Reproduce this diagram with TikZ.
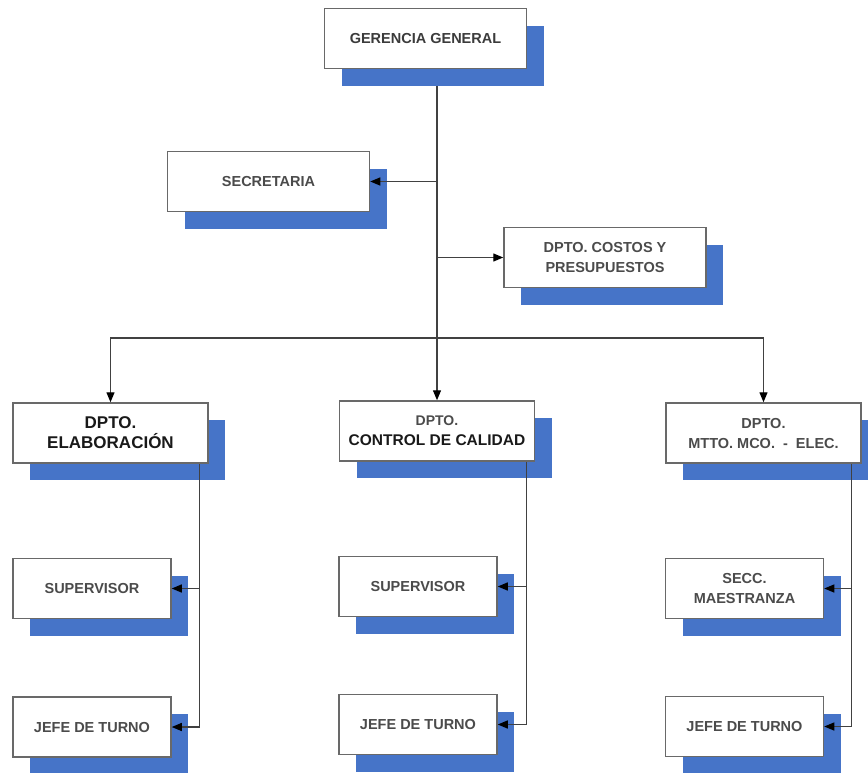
\documentclass[tikz,border=0pt]{standalone}
\usepackage{fontspec}
\setmainfont{Liberation Sans}
\usetikzlibrary{arrows.meta}
\definecolor{shad}{RGB}{70,116,200}
\definecolor{txt}{RGB}{75,75,75}
\definecolor{dtxt}{RGB}{25,25,25}
\definecolor{bord}{RGB}{105,105,105}
\definecolor{conn}{RGB}{65,65,65}
\tikzset{
  orgbox/.style={draw=bord, line width=1.5pt, fill=white, inner sep=0pt,
    align=center, text=txt, font=\fontsize{14.5}{20}\selectfont\bfseries,
    minimum height=60pt,
    preaction={fill=shad, transform canvas={shift={(17pt,-17pt)}}}},
  bigbox/.style={orgbox, minimum width=202pt},
  deptbox/.style={orgbox, minimum width=195pt},
  smallbox/.style={orgbox, minimum width=158pt},
  conn/.style={draw=conn, line width=1.3pt},
  arr/.style={conn, -{Triangle[length=10pt,width=8pt,color=black]}}
}
\begin{document}
\begin{tikzpicture}[x=1pt,y=-1pt]
\useasboundingbox (0,0) rectangle (868,772);
\fill[white] (0,0) rectangle (868,772);

\node[bigbox, text=dtxt!85!white] (ger) at (425.5,38.5) {GERENCIA GENERAL};
\node[bigbox] (sec) at (268.5,181.5) {SECRETARIA};
\node[bigbox] (cos) at (605,257.5) {DPTO. COSTOS Y\\PRESUPUESTOS};

\node[deptbox, text=dtxt, font=\fontsize{17}{20}\selectfont\bfseries] (ela) at (110.5,433) {DPTO.\\ELABORACIÓN};
\node[deptbox] (cc) at (437,431) {{\color{txt}\fontsize{14}{20}\selectfont DPTO.}\\{\color{dtxt}\fontsize{15.5}{20}\selectfont CONTROL DE CALIDAD}};
\node[deptbox] (mt) at (763.5,433) {DPTO.\\MTTO.\ MCO.\ \ -\ \ ELEC.};

\node[smallbox] (sup1) at (92,588.5) {SUPERVISOR};
\node[smallbox] (jef1) at (92,727) {JEFE DE TURNO};
\node[smallbox] (sup2) at (418,586.5) {SUPERVISOR};
\node[smallbox] (jef2) at (418,724.5) {JEFE DE TURNO};
\node[smallbox] (secc) at (744.5,588.5) {SECC.\\MAESTRANZA};
\node[smallbox] (jef3) at (744.5,726.5) {JEFE DE TURNO};

\coordinate (t0) at (437,86);
\coordinate (hy) at (437,338);
\draw[arr] (t0) -- (cc.north);
\draw[arr] (sec.east -| t0) -- (sec.east);
\draw[arr] (cos.west -| t0) -- (cos.west);
\draw[arr] (hy) -| (ela.north);
\draw[arr] (hy) -| (mt.north);

\coordinate (ed) at ([xshift=-9pt]ela.south east);
\draw[arr] (ed) |- (jef1.east);
\draw[arr] (ed |- sup1.east) -- (sup1.east);

\coordinate (cd) at ([xshift=-9pt]cc.south east);
\draw[arr] (cd) |- (jef2.east);
\draw[arr] (cd |- sup2.east) -- (sup2.east);

\coordinate (md) at ([xshift=-10pt]mt.south east);
\draw[arr] (md) |- (jef3.east);
\draw[arr] (md |- secc.east) -- (secc.east);
\end{tikzpicture}
\end{document}
